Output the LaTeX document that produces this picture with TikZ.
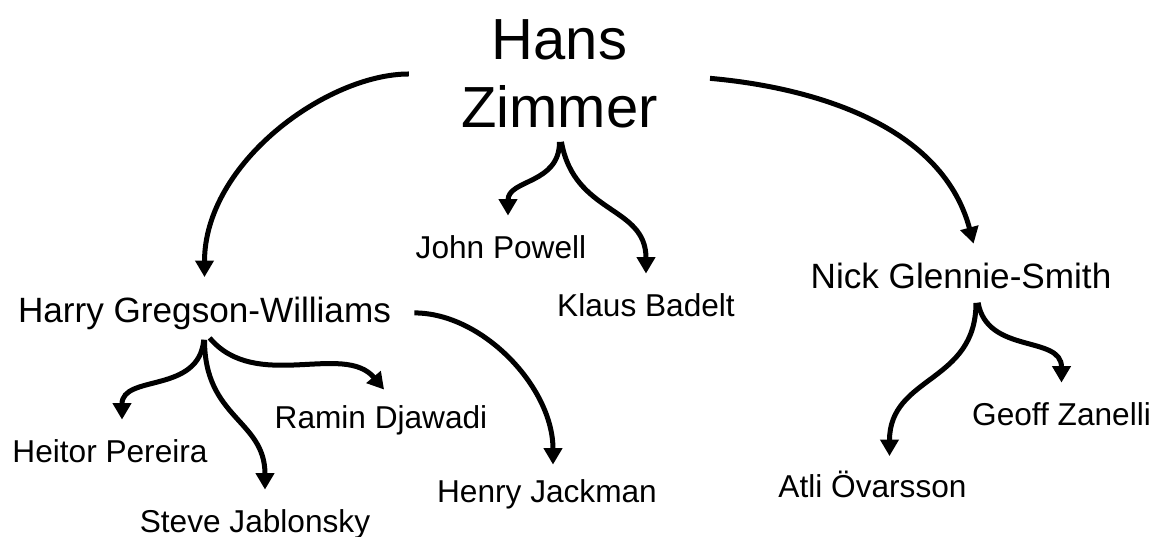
\documentclass[tikz,border=0pt]{standalone}
\usepackage{fontspec}
\setmainfont{Liberation Sans}
\usetikzlibrary{arrows.meta}

\tikzset{
    master/.style={font=\fontsize{33}{39}\selectfont, align=center, inner sep=0pt},
    pupil/.style={font=\fontsize{20}{24}\selectfont, inner sep=0pt, anchor=base},
    student/.style={font=\fontsize{18}{22}\selectfont, inner sep=0pt, anchor=base}
}

\begin{document}
\begin{tikzpicture}[x=0.02cm, y=-0.02cm, >={Triangle[length=0.33cm, width=0.36cm]}, shorten >=0.34cm, line width=0.1cm]
    \useasboundingbox (0,0) rectangle (1157,537);

    \node[master, anchor=north] (hz) at (559.5,17) {Hans\\Zimmer};
    \node[pupil] (hgw) at (204.5,322) {Harry Gregson-Williams};
    \node[pupil] (ngs) at (961,288) {Nick Glennie-Smith};
    \node[student] (jp) at (501,258) {John Powell};
    \node[student] (kb) at (646,316) {Klaus Badelt};
    \node[student] (hp) at (110,462) {Heitor Pereira};
    \node[student] (sj) at (255,532) {Steve Jablonsky};
    \node[student] (rd) at (381,428) {Ramin Djawadi};
    \node[student] (hj) at (547,502) {Henry Jackman};
    \node[student] (ao) at (872.5,497) {Atli Övarsson};
    \node[student] (gz) at (1061.5,425) {Geoff Zanelli};

    \path[->]
    (hz.west) edge[out=180, in=90, shorten <=1cm] (hgw.north)
    (hz.east) edge[out=-5, in=105, shorten <=1cm] ([xshift=0.34cm]ngs.north)
    (hz.south) edge[out=-90, in=90, looseness=1.2, shorten <=0.22cm] ([xshift=0.14cm]jp.north)
    (hz.south) edge[out=-80, in=90, looseness=1.2, shorten <=0.22cm] (kb.north)
    (hgw.south) edge[out=-95, in=90, looseness=1.2, shorten <=0.16cm] ([xshift=0.24cm]hp.north)
    (hgw.south) edge[out=-90, in=90, looseness=1.2, shorten <=0.16cm] ([xshift=0.2cm]sj.north)
    (hgw.south) edge[out=-50, in=130, shorten <=0.16cm] ([xshift=0.28cm]rd.north)
    (hgw.east) edge[out=0, in=90, shorten <=0.42cm, shorten >=0.24cm] ([xshift=0.12cm]hj.north)
    ([xshift=0.3cm]ngs.south) edge[out=-90, in=90, looseness=1.2, shorten <=0.24cm, shorten >=0.24cm] ([xshift=0.34cm]ao.north)
    ([xshift=0.3cm]ngs.south) edge[out=-80, in=90, looseness=1.2, shorten <=0.24cm] (gz.north);
\end{tikzpicture}
\end{document}
